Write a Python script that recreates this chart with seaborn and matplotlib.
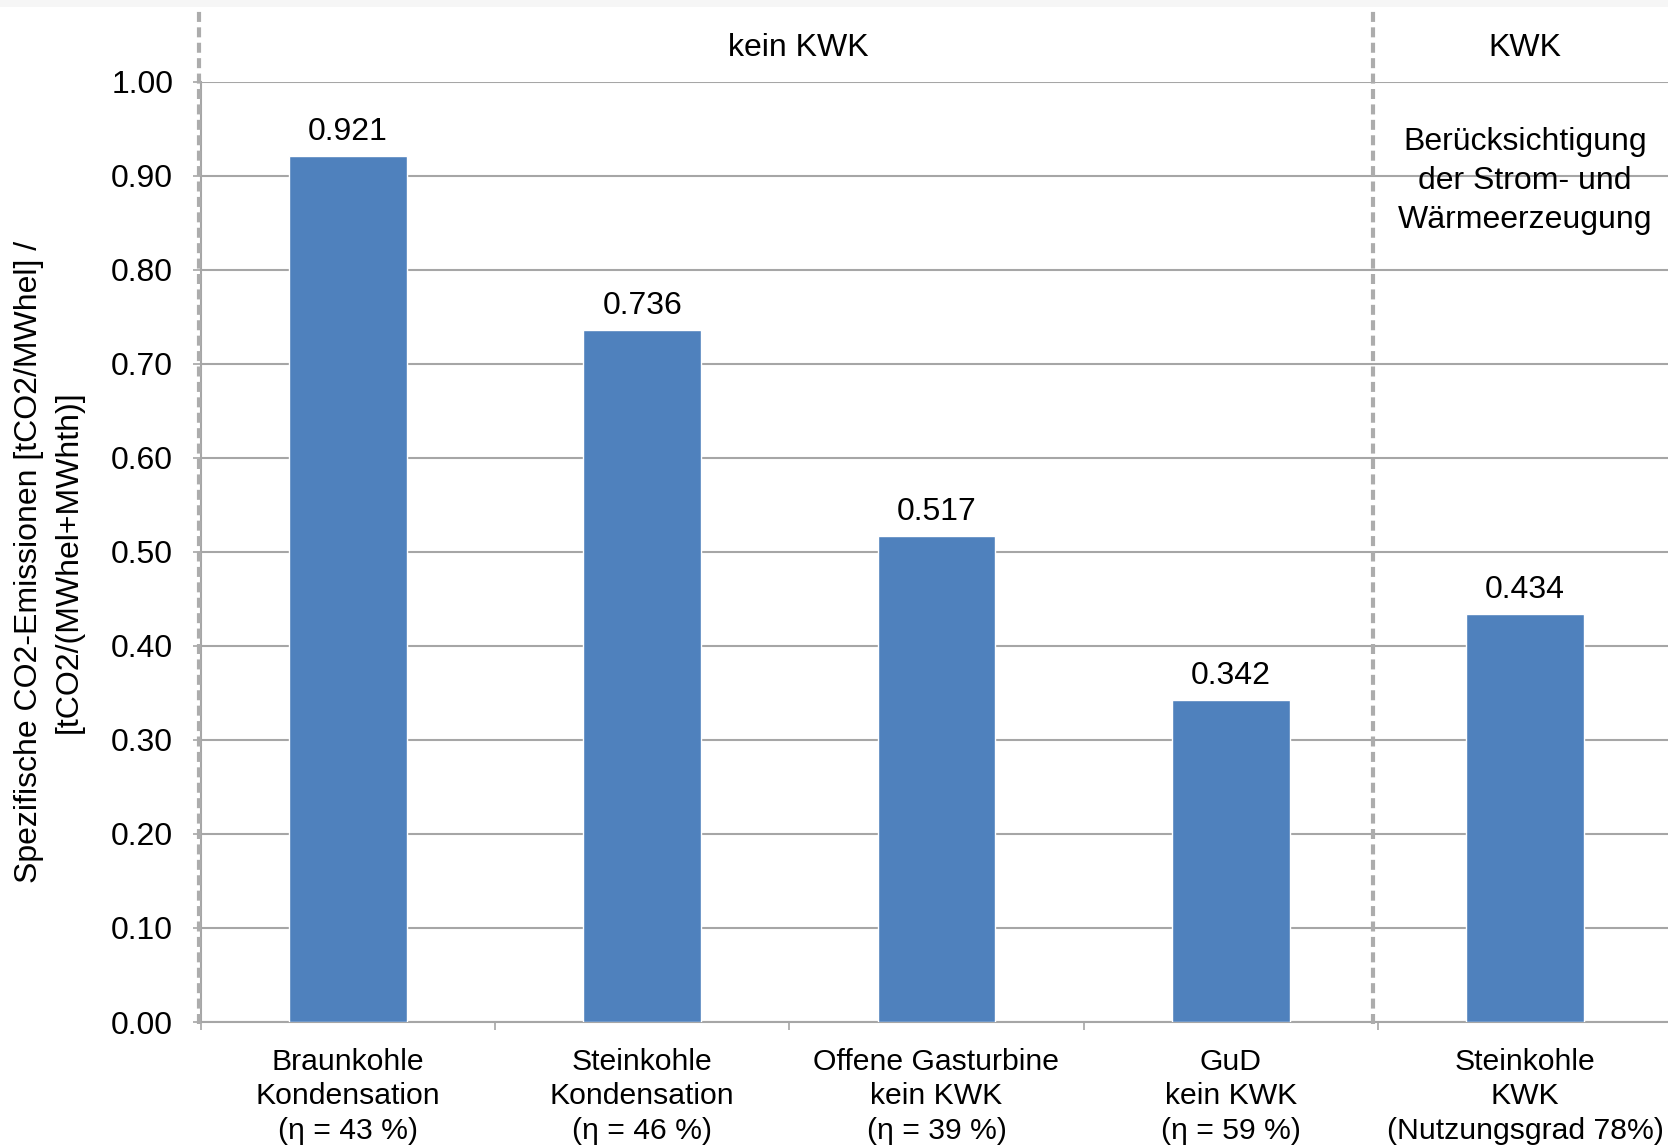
import matplotlib
matplotlib.use("Agg")
import matplotlib.pyplot as plt
from matplotlib.patches import Rectangle
from matplotlib.ticker import FormatStrFormatter, FixedLocator
import seaborn as sns
import pandas as pd

# Specific CO2 emissions per plant type
categories = [
    "Braunkohle\nKondensation\n(η = 43 %)",
    "Steinkohle\nKondensation\n(η = 46 %)",
    "Offene Gasturbine\nkein KWK\n(η = 39 %)",
    "GuD\nkein KWK\n(η = 59 %)",
    "Steinkohle\nKWK\n(Nutzungsgrad 78%)",
]
emissions = [0.921, 0.736, 0.517, 0.342, 0.434]
y_ticks = [0.0, 0.1, 0.2, 0.3, 0.4, 0.5, 0.6, 0.7, 0.8, 0.9, 1.0]
group_labels = ["kein KWK", "KWK"]
kwk_note = "Berücksichtigung\nder Strom- und\nWärmeerzeugung"
y_label = "Spezifische CO2-Emissionen [tCO2/MWhel] /\n[tCO2/(MWhel+MWhth)]"

df = pd.DataFrame({"Kategorie": categories, "Emission": emissions})

sns.set_theme(style="white")
plt.rcParams["font.family"] = ["Liberation Sans", "DejaVu Sans"]

FS = 23
FS_CAT = 21.7
GRID = "#a6a6a6"
BAR = "#4F81BD"
DASH = "#acacac"

W, H = 1668, 1145
fig = plt.figure(figsize=(W / 100, H / 100), dpi=100)
ax_left, ax_right, ax_bottom, ax_top = 200.7, 1672.2, 1022.0, 81.7
ax = fig.add_axes([ax_left / W, 1 - ax_bottom / H,
                   (ax_right - ax_left) / W, (ax_bottom - ax_top) / H])

# faint band along the top edge of the page
fig.patches.append(Rectangle((0, 1 - 7 / H), 1, 7 / H, transform=fig.transFigure,
                             facecolor="#f6f6f6", edgecolor="none", zorder=0))

sns.barplot(data=df, x="Kategorie", y="Emission", color=BAR, saturation=1,
            width=0.4, ax=ax, zorder=3)

ax.set_xlim(-0.5, len(categories) - 0.5)
ax.set_ylim(0, 1.0)
ax.set_yticks(y_ticks)
ax.yaxis.set_major_formatter(FormatStrFormatter("%.2f"))
ax.yaxis.grid(True, color=GRID, linewidth=1.5, zorder=0)
ax.xaxis.grid(False)

for side in ["top", "right"]:
    ax.spines[side].set_visible(False)
for side in ["left", "bottom"]:
    ax.spines[side].set_color(GRID)
    ax.spines[side].set_linewidth(1.5)

ax.tick_params(axis="y", which="major", left=True, length=5.8, width=1.2,
               color=GRID, pad=14, labelsize=FS, labelcolor="black")
ax.tick_params(axis="x", which="major", bottom=False, length=0, pad=18.5,
               labelsize=FS_CAT, labelcolor="black")
ax.xaxis.set_minor_locator(FixedLocator([i - 0.5 for i in range(len(categories) + 1)]))
ax.tick_params(axis="x", which="minor", bottom=True, length=5.8, width=1.2, color=GRID)
for lbl in ax.get_xticklabels():
    lbl.set_linespacing(1.3)

ax.set_xlabel("")
ax.set_ylabel("")
fig.text(49 / W, 1 - 562 / H, y_label, rotation=90, ha="center", va="center",
         fontsize=FS, color="black", linespacing=1.44, multialignment="center")

# value labels above each bar
for i, v in enumerate(emissions):
    ax.annotate(f"{v:.3f}", (i, v), xytext=(0, 11.5), textcoords="offset points",
                ha="center", va="baseline", fontsize=FS, color="black")

# dashed separators for the two groups
for xpos in [-0.507, 3.484]:
    ax.axvline(xpos, ymin=-0.002, ymax=1.0794, color=DASH, linewidth=3.0,
               linestyle=(0, (2.4, 1.3)), clip_on=False, zorder=4)

# group headings
head_y = 1.0 + (81.7 - 48) / 940.3
ax.text(1.53, head_y, group_labels[0], transform=ax.get_xaxis_transform(),
        ha="center", va="center", fontsize=FS, color="black")
ax.text(4.0, head_y, group_labels[1], transform=ax.get_xaxis_transform(),
        ha="center", va="center", fontsize=FS, color="black")
ax.text(4.0, 1.0 - (181 - 81.7) / 940.3, kwk_note, transform=ax.get_xaxis_transform(),
        ha="center", va="center", fontsize=FS, color="black", linespacing=1.37,
        multialignment="center")

fig.savefig("out.png", dpi=100, facecolor="white")
